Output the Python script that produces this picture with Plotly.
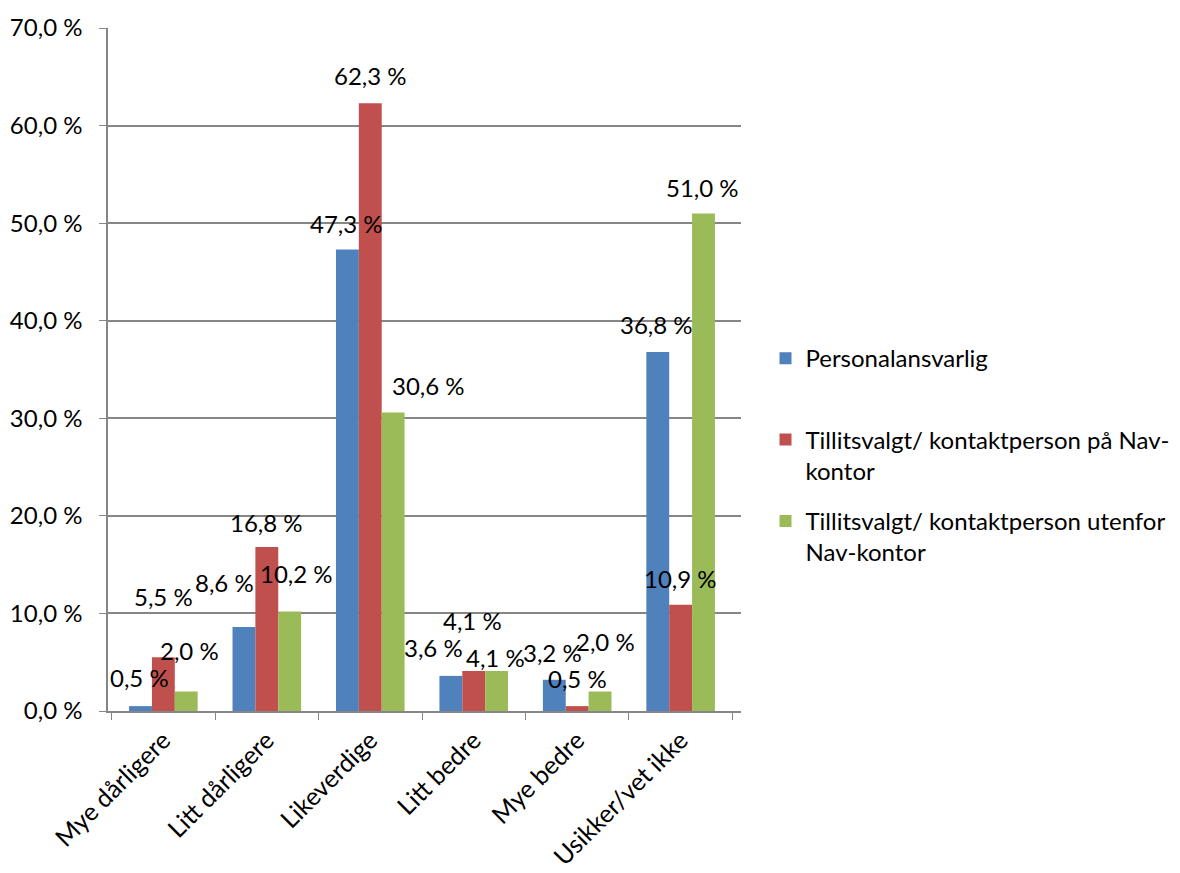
import plotly.graph_objects as go

categories = ["Mye dårligere", "Litt dårligere", "Likeverdige", "Litt bedre", "Mye bedre", "Usikker/vet ikke"]
series_names = [
    "Personalansvarlig<br> ",
    "Tillitsvalgt/ kontaktperson på Nav-<br>kontor",
    "Tillitsvalgt/ kontaktperson utenfor<br>Nav-kontor",
]
personalansvarlig = [0.5, 8.6, 47.3, 3.6, 3.2, 36.8]
tillitsvalgt_paa = [5.5, 16.8, 62.3, 4.1, 0.5, 10.9]
tillitsvalgt_utenfor = [2.0, 10.2, 30.6, 4.1, 2.0, 51.0]
y_tick_values = [0, 10, 20, 30, 40, 50, 60, 70]
y_tick_labels = ["0,0 %", "10,0 %", "20,0 %", "30,0 %", "40,0 %", "50,0 %", "60,0 %", "70,0 %"]

# label nudges in pixels (horizontal, vertical above bar top)
label_dx = [
    [-1, -19, -1, -17, -2, -1],
    [0, 0, 0, -1, 0, 0],
    [3, 7, 35, -1, 5, -1],
]
label_dy = [
    [29, 45, 26, 28, 27, 27],
    [61, 25, 28, 51, 28, 26],
    [41, 38, 27, 14, 50, 26],
]

colors = ["#4F81BD", "#C0504D", "#9BBB59"]
FONT = "Lato"
FS = 24
bargap = 0.337

series = [personalansvarlig, tillitsvalgt_paa, tillitsvalgt_utenfor]

fig = go.Figure()
for k, (name, vals) in enumerate(zip(series_names, series)):
    fig.add_trace(go.Bar(
        x=categories, y=vals, name=name, marker_color=colors[k],
        marker_line_width=0, legendgroup=str(k),
    ))

bw = (1 - bargap) / 3
annotations = []
for k, vals in enumerate(series):
    for i, v in enumerate(vals):
        annotations.append(dict(
            x=i + (k - 1) * bw, y=v, xref="x", yref="y",
            text=f"{v:.1f} %".replace(".", ","), showarrow=False,
            xshift=label_dx[k][i], yshift=label_dy[k][i],
            xanchor="center", yanchor="middle",
            font=dict(family=FONT, size=FS, color="black"),
        ))

fig.update_layout(
    width=1180, height=873,
    margin=dict(l=108, r=438.5, t=27.5, b=162, autoexpand=False),
    paper_bgcolor="white", plot_bgcolor="white",
    barmode="group", bargap=bargap, bargroupgap=0,
    font=dict(family=FONT, size=FS, color="black"),
    annotations=annotations,
    legend=dict(
        x=1.0387, xanchor="left", y=0.549, yanchor="top",
        valign="top", tracegroupgap=16,
        font=dict(family=FONT, size=FS, color="black"),
        bgcolor="rgba(0,0,0,0)",
    ),
    xaxis=dict(
        type="category", tickangle=-45, tickson="boundaries",
        ticks="outside", ticklen=7, tickcolor="#868686",
        showline=True, linecolor="#868686", linewidth=1.5,
        showgrid=False, automargin=False, ticklabelstandoff=3,
        tickfont=dict(family=FONT, size=25, color="black"),
    ),
    yaxis=dict(
        range=[0, 70], tickvals=y_tick_values, ticktext=y_tick_labels,
        ticks="outside", ticklen=7, tickcolor="#868686",
        showline=True, linecolor="#868686", linewidth=1.5,
        showgrid=True, gridcolor="#868686", gridwidth=1.5,
        zeroline=False, ticklabelstandoff=12, automargin=False,
        tickfont=dict(family=FONT, size=FS, color="black"),
    ),
)

fig.write_html("out.html")
